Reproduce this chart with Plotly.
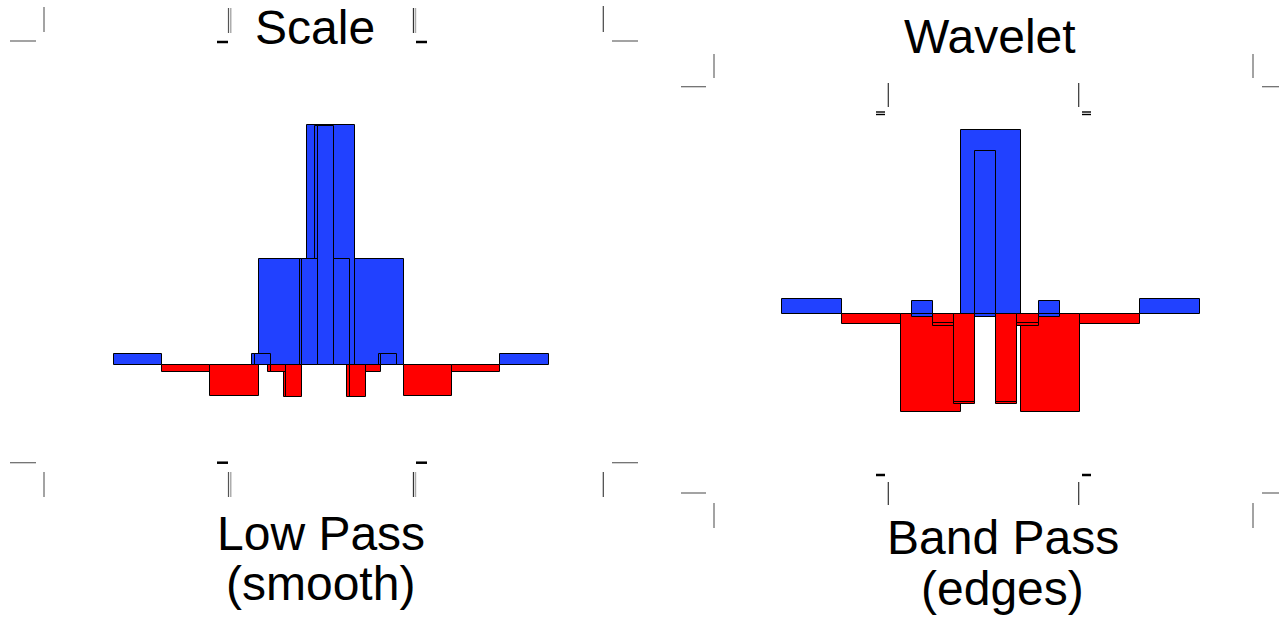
import plotly.graph_objects as go

W, H = 1279, 622

# Low-pass (scaling function) coefficients: coarse level and the finer, compressed copy
scale_pos = [-4, -3, -2, -1, 0, 1, 2, 3, 4]
scale_coarse = [0.044, -0.029, -0.129, 0.442, 1.0, 0.442, -0.129, -0.029, 0.044]
scale_fine = [0.044, -0.029, -0.132, 0.442, 0.996, 0.442, -0.132, -0.029, 0.044]

# Band-pass (wavelet) coefficients
wave_pos = [-3, -2, -1, 0, 1, 2, 3]
wave_coarse = [0.082, -0.053, -0.529, 1.0, -0.529, -0.053, 0.082]
wave_fine = [0.071, -0.049, -0.475, 0.886, -0.475, -0.049, 0.071]

titles_top = ["Scale", "Wavelet"]
titles_bottom = [["Low Pass", "(smooth)"], ["Band Pass", "(edges)"]]

BLUE = "#2141ff"
RED = "#ff0000"

# pixel geometry of each panel: zero of x, px per unit, zero of y, px per unit
LEFT = dict(cx=331.15, ux=48.33, cy=365.0, uy=240.33)
RIGHT = dict(cx=990.85, ux=59.7, cy=314.33, uy=184.0)


def colors(vals):
    return [BLUE if v >= 0 else RED for v in vals]


def bars(pos, vals, scale, shift, xa, ya, base=0.0):
    return go.Bar(
        x=[p * scale + shift for p in pos],
        y=vals,
        base=base,
        width=scale,
        marker=dict(color=colors(vals), line=dict(color="black", width=1)),
        xaxis=xa,
        yaxis=ya,
        hoverinfo="skip",
        showlegend=False,
    )


fig = go.Figure()
# left panel: coarse level, offset shadow copy of the fine level, fine level
fig.add_trace(bars(scale_pos, scale_coarse, 1.0, 0.0, "x", "y"))
fig.add_trace(bars(scale_pos, scale_fine, 0.328, -0.162, "x", "y"))
fig.add_trace(bars(scale_pos, scale_fine, 0.328, -0.107, "x", "y"))
# right panel
fig.add_trace(bars(wave_pos, wave_coarse, 1.0, 0.0, "x2", "y2"))
fig.add_trace(bars(wave_pos, wave_fine, 0.3534, -0.084, "x2", "y2", base=-0.0125))
fig.add_trace(bars(wave_pos, wave_fine, 0.3534, -0.084, "x2", "y2"))


def xr(p):
    return [(0 - p["cx"]) / p["ux"], (W - p["cx"]) / p["ux"]]


def yr(p):
    return [(p["cy"] - H) / p["uy"], p["cy"] / p["uy"]]


hidden = dict(visible=False, showgrid=False, zeroline=False, fixedrange=True)
fig.update_layout(
    width=W,
    height=H,
    margin=dict(l=0, r=0, t=0, b=0),
    paper_bgcolor="white",
    plot_bgcolor="rgba(0,0,0,0)",
    barmode="overlay",
    bargap=0,
    xaxis=dict(domain=[0, 1], range=xr(LEFT), **hidden),
    yaxis=dict(domain=[0, 1], range=yr(LEFT), **hidden),
    xaxis2=dict(domain=[0, 1], range=xr(RIGHT), overlaying="x", **hidden),
    yaxis2=dict(domain=[0, 1], range=yr(RIGHT), overlaying="y", anchor="x2", **hidden),
)


def px(x):
    return x / W


def py(y):
    return 1 - y / H


# frame corner marks (pixel segments): x0, y0, x1, y1, colour, width
GREY = "#666666"
marks = [
    # left panel, top
    (10, 41, 36, 41, GREY, 1.2), (44, 7, 44, 32, GREY, 1.2),
    (217, 42, 228, 42, "black", 2.5), (228.5, 8, 228.5, 33, "#555", 1.2), (230.8, 8, 230.8, 33, "#999", 1.2),
    (413.5, 8, 413.5, 33, "#333", 1.3), (415.6, 8, 415.6, 33, "#aaa", 1.2), (416, 42, 427, 42, "black", 2.5),
    (603.3, 6, 603.3, 32, "#444", 1.2), (612, 41, 638, 41, GREY, 1.2),
    # left panel, bottom
    (10, 462.7, 36, 462.7, GREY, 1.2), (44, 472, 44, 497, GREY, 1.2),
    (217, 462.7, 228, 462.7, "black", 2.5), (228.5, 472, 228.5, 497, "#555", 1.2), (230.8, 472, 230.8, 497, "#999", 1.2),
    (413.5, 472, 413.5, 497, "#333", 1.3), (415.6, 472, 415.6, 497, "#aaa", 1.2), (416, 462.7, 427, 462.7, "black", 2.5),
    (603.3, 472, 603.3, 497, "#444", 1.2), (612, 462.7, 638, 462.7, GREY, 1.2),
    # right panel, top
    (681, 86.7, 706, 86.7, GREY, 1.2), (714, 54, 714, 78, GREY, 1.2),
    (888.3, 83, 888.3, 107, "#333", 1.2), (876, 112, 885, 112, "black", 1.4), (876, 114.5, 885, 114.5, "black", 1.4),
    (1078.7, 83, 1078.7, 107, "#333", 1.2), (1082, 112, 1091, 112, "black", 1.4), (1082, 114.5, 1091, 114.5, "black", 1.4),
    (1253, 54, 1253, 78, GREY, 1.2), (1262, 86.7, 1286, 86.7, GREY, 1.2),
    # right panel, bottom
    (681, 493, 706, 493, GREY, 1.2), (714, 503, 714, 528, GREY, 1.2),
    (888.3, 482, 888.3, 505, "#333", 1.2), (876, 475, 885, 475, "black", 2.5),
    (1078.7, 482, 1078.7, 505, "#333", 1.2), (1082, 475, 1091, 475, "black", 2.5),
    (1253, 503, 1253, 528, GREY, 1.2), (1262, 493, 1286, 493, GREY, 1.2),
]
for x0, y0, x1, y1, c, w in marks:
    fig.add_shape(type="line", xref="paper", yref="paper",
                  x0=px(x0), y0=py(y0), x1=px(x1), y1=py(y1),
                  line=dict(color=c, width=w))

FONT = dict(family="Liberation Sans, Arial, sans-serif", size=48, color="black")
# (text, centre x px, baseline y px)
labels = [
    (titles_top[0], 315, 44),
    (titles_top[1], 990, 53),
    (titles_bottom[0][0], 321, 550),
    (titles_bottom[0][1], 320.5, 600),
    (titles_bottom[1][0], 1003, 554),
    (titles_bottom[1][1], 1002, 605),
]
for text, x, base in labels:
    fig.add_annotation(text=text, xref="paper", yref="paper",
                       x=px(x), y=py(base - 0.35 * FONT["size"]),
                       xanchor="center", yanchor="middle", showarrow=False,
                       font=FONT)

fig.write_html("out.html")
